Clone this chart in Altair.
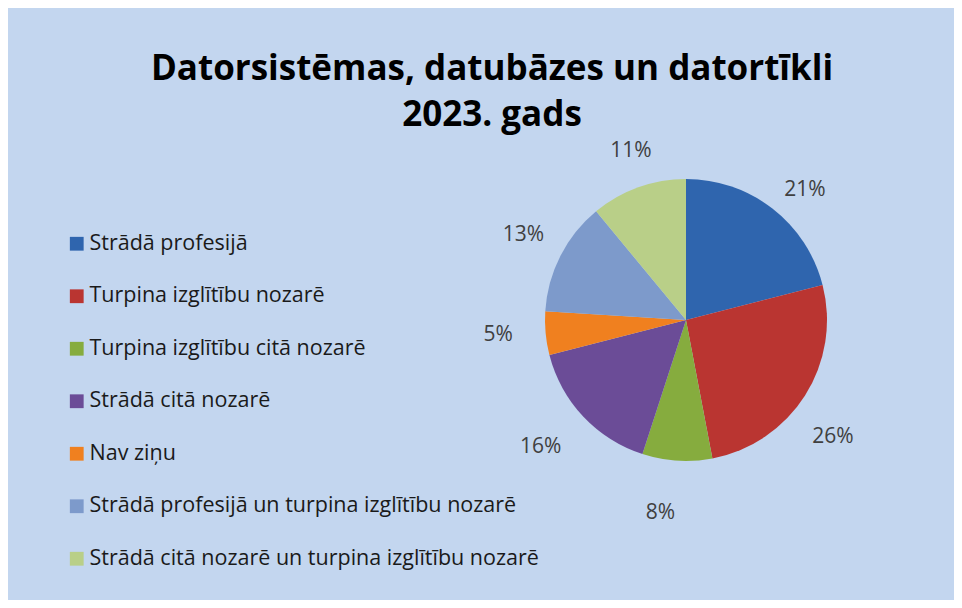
import altair as alt
import pandas as pd

title_lines = ["Datorsistēmas, datubāzes un datortīkli", "2023. gads"]
categories = [
    "Strādā profesijā",
    "Turpina izglītību nozarē",
    "Turpina izglītību citā nozarē",
    "Strādā citā nozarē",
    "Nav ziņu",
    "Strādā profesijā un turpina izglītību nozarē",
    "Strādā citā nozarē un turpina izglītību  nozarē",
]
values = [21, 26, 8, 16, 5, 13, 11]
labels = [f"{v}%" for v in values]
colors = ["#2F65AE", "#BA3531", "#86AC3E", "#6B4C97", "#F0801F", "#7D9ACB", "#B9CF88"]

df = pd.DataFrame({
    "category": categories,
    "value": values,
    "label": labels,
    "order": list(range(len(categories))),
})

FONT = "Open Sans"
CX, CY = 678, 192

base = alt.Chart(df).encode(
    theta=alt.Theta("value:Q", stack=True),
    order=alt.Order("order:Q"),
)

pie = base.mark_arc(radius=141).encode(
    x=alt.value(CX),
    y=alt.value(CY),
    color=alt.Color(
        "category:N",
        sort=categories,
        scale=alt.Scale(domain=categories, range=colors),
        legend=alt.Legend(
            title=None,
            orient="none",
            legendX=58,
            legendY=105,
            symbolType="square",
            symbolSize=190,
            symbolStrokeWidth=0,
            labelFont=FONT,
            labelFontSize=21.5,
            labelColor="#1a1a1a",
            labelLimit=700,
            labelOffset=2,
            rowPadding=29.5,
        ),
    ),
)

text = base.mark_text(
    radius=185, thetaOffset=0.06, font=FONT, fontSize=21, color="#404040"
).encode(
    x=alt.value(CX - 3),
    y=alt.value(CY + 9),
    text="label:N",
)

chart = (pie + text).properties(
    width=946,
    height=472,
    autosize="none",
    padding={"top": 120, "left": 0, "right": 0, "bottom": 0},
    background="#C3D6EF",
    title=alt.TitleParams(
        text=title_lines,
        font=FONT,
        fontSize=35,
        fontWeight="bold",
        color="#000000",
        lineHeight=46,
        anchor="middle",
        dx=11,
        offset=-5,
    ),
).configure_view(stroke=None)

chart.save("out.html", embed_options={"renderer": "svg", "actions": False})
